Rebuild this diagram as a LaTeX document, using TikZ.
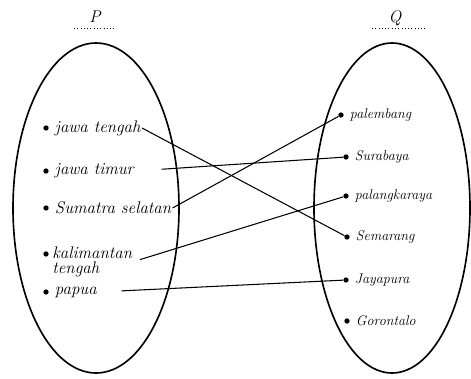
\documentclass[tikz,border=0pt]{standalone}
\usetikzlibrary{positioning}
\begin{document}
\begin{tikzpicture}[x=0.3mm,y=-0.3mm,
  dot/.style={circle,fill,inner sep=1.6pt},
  itemL/.style={font=\Large\itshape,inner sep=1pt},
  itemR/.style={font=\large\itshape,inner sep=1pt},
  link/.style={line width=0.9pt},
  ]
\useasboundingbox (0,0) rectangle (471,378);
%himpunan P dan Q
\draw [line width=1.4pt] (96,208) ellipse [x radius=83, y radius=165];
\draw [line width=1.4pt] (392,208) ellipse [x radius=78, y radius=165];

\node[font=\Large\itshape] (P) at (95,17) {P};
\draw[dotted, thick] (74,28) -- (116,28);
\node[font=\Large\itshape] (Q) at (395,18) {Q};
\draw[dotted, thick] (372,28) -- (426,28);

%anggota P
\node[dot] (p1) at (46,128) {};
\node[itemL, right=4pt of p1] (jateng) {jawa tengah};
\node[dot] (p2) at (46,171) {};
\node[itemL, right=4pt of p2] (jatim) {jawa timur};
\node[dot] (p3) at (46,208) {};
\node[itemL, right=4pt of p3] (sumsel) {Sumatra selatan};
\node[dot] (p4) at (46,254) {};
\node[itemL, anchor=north west, align=left] (kalteng) at (51,245) {kalimantan\\[-5pt]tengah};
\node[dot] (p5) at (46,292) {};
\node[itemL, right=4pt of p5] (papua) {papua};

%anggota Q
\node[dot] (q1) at (341,115) {};
\node[itemR, right=4pt of q1] (plm) {palembang};
\node[dot] (q2) at (346,157) {};
\node[itemR, right=4pt of q2] (sby) {Surabaya};
\node[dot] (q3) at (346,196) {};
\node[itemR, right=4pt of q3] (pky) {palangkaraya};
\node[dot] (q4) at (347,237) {};
\node[itemR, right=4pt of q4] (smg) {Semarang};
\node[dot] (q5) at (346,280) {};
\node[itemR, right=4pt of q5] (jyp) {Jayapura};
\node[dot] (q6) at (347,321) {};
\node[itemR, right=4pt of q6] (gto) {Gorontalo};

%pasangan
\draw[link] (jateng.east) -- (q4);
\draw[link, shorten <=8mm] (jatim.east) -- (q2);
\draw[link] (sumsel.east) -- (q1);
\draw[link, shorten <=2mm] (kalteng.east) -- (q3);
\draw[link, shorten <=7mm] (papua.east) -- (q5);
\end{tikzpicture}
\end{document}
